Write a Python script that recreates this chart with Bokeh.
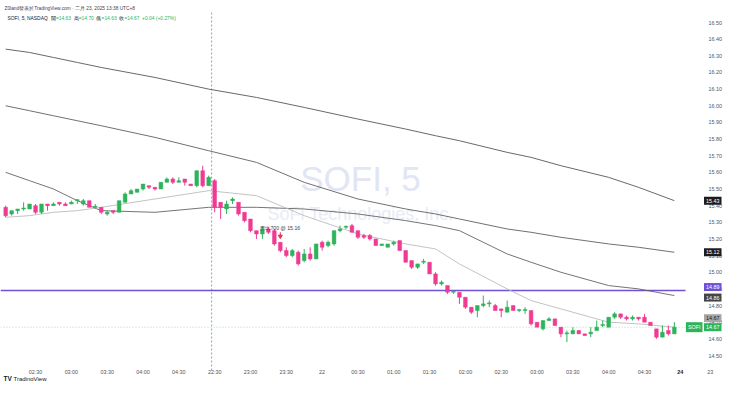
import numpy as np
from bokeh.plotting import figure
from bokeh.models import ColumnDataSource, Range1d, FixedTicker, NumeralTickFormatter, Label
from bokeh.core.properties import value
from bokeh.embed import file_html
from bokeh.resources import INLINE

# ---------------- data ----------------
opens = [15.39, 15.35, 15.37, 15.38, 15.38, 15.40, 15.36, 15.41, 15.40, 15.42,
         15.41, 15.41, 15.43, 15.41, 15.43, 15.39, 15.39, 15.35, 15.37, 15.36,
         15.42, 15.47, 15.48, 15.50, 15.52, 15.51, 15.50, 15.54, 15.56, 15.54,
         15.56, 15.53, 15.52, 15.61, 15.52, 15.55, 15.42, 15.38, 15.43, 15.42,
         15.36, 15.32, 15.25, 15.23, 15.26, 15.25, 15.18, 15.13, 15.10, 15.12,
         15.07, 15.11, 15.08, 15.18, 15.16, 15.17, 15.25, 15.27, 15.28, 15.25,
         15.22, 15.22, 15.20, 15.16, 15.15, 15.17, 15.19, 15.13, 15.07, 15.03,
         15.06, 15.06, 14.99, 14.93, 14.92, 14.88, 14.88, 14.85, 14.79, 14.77,
         14.80, 14.81, 14.80, 14.78, 14.76, 14.80, 14.77, 14.77, 14.77, 14.70,
         14.66, 14.71, 14.72, 14.67, 14.63, 14.63, 14.65, 14.63, 14.63, 14.65,
         14.68, 14.67, 14.73, 14.75, 14.73, 14.72, 14.73, 14.73, 14.70, 14.66,
         14.61, 14.65, 14.63]
highs = [15.40, 15.37, 15.38, 15.42, 15.41, 15.41, 15.41, 15.41, 15.42, 15.42,
         15.42, 15.43, 15.44, 15.44, 15.43, 15.41, 15.39, 15.37, 15.37, 15.43,
         15.48, 15.50, 15.50, 15.53, 15.52, 15.51, 15.54, 15.57, 15.57, 15.57,
         15.56, 15.53, 15.61, 15.64, 15.58, 15.56, 15.42, 15.43, 15.45, 15.42,
         15.36, 15.32, 15.25, 15.27, 15.27, 15.26, 15.18, 15.15, 15.14, 15.13,
         15.14, 15.15, 15.17, 15.19, 15.19, 15.25, 15.28, 15.28, 15.29, 15.25,
         15.23, 15.23, 15.20, 15.17, 15.17, 15.19, 15.19, 15.13, 15.07, 15.05,
         15.08, 15.06, 15.00, 14.95, 14.92, 14.89, 14.88, 14.85, 14.79, 14.80,
         14.86, 14.83, 14.81, 14.78, 14.83, 14.80, 14.78, 14.79, 14.77, 14.70,
         14.71, 14.73, 14.72, 14.67, 14.65, 14.67, 14.65, 14.63, 14.67, 14.71,
         14.71, 14.73, 14.76, 14.75, 14.74, 14.74, 14.73, 14.75, 14.70, 14.66,
         14.68, 14.68, 14.70]
lows = [15.33, 15.34, 15.35, 15.37, 15.38, 15.35, 15.35, 15.37, 15.40, 15.40,
        15.40, 15.41, 15.41, 15.40, 15.39, 15.38, 15.35, 15.34, 15.35, 15.36,
        15.42, 15.47, 15.48, 15.49, 15.50, 15.49, 15.50, 15.54, 15.53, 15.54,
        15.52, 15.52, 15.51, 15.51, 15.52, 15.36, 15.32, 15.35, 15.41, 15.34,
        15.30, 15.24, 15.20, 15.20, 15.23, 15.16, 15.12, 15.09, 15.09, 15.04,
        15.06, 15.07, 15.08, 15.13, 15.15, 15.16, 15.24, 15.26, 15.24, 15.20,
        15.20, 15.19, 15.16, 15.16, 15.15, 15.16, 15.13, 15.06, 15.02, 15.02,
        15.05, 14.99, 14.92, 14.92, 14.87, 14.87, 14.81, 14.78, 14.75, 14.73,
        14.79, 14.79, 14.77, 14.73, 14.76, 14.77, 14.76, 14.75, 14.68, 14.67,
        14.65, 14.71, 14.68, 14.61, 14.58, 14.63, 14.63, 14.62, 14.61, 14.65,
        14.67, 14.67, 14.72, 14.72, 14.71, 14.71, 14.71, 14.70, 14.68, 14.60,
        14.61, 14.62, 14.63]
closes = [15.34, 15.37, 15.38, 15.38, 15.41, 15.36, 15.41, 15.40, 15.41, 15.41,
          15.40, 15.42, 15.43, 15.43, 15.39, 15.39, 15.36, 15.36, 15.36, 15.43,
          15.47, 15.49, 15.50, 15.53, 15.51, 15.50, 15.54, 15.56, 15.54, 15.55,
          15.54, 15.52, 15.61, 15.52, 15.57, 15.39, 15.39, 15.41, 15.44, 15.35,
          15.31, 15.25, 15.23, 15.26, 15.24, 15.17, 15.13, 15.10, 15.13, 15.05,
          15.11, 15.08, 15.17, 15.15, 15.18, 15.25, 15.26, 15.27, 15.24, 15.21,
          15.21, 15.20, 15.16, 15.17, 15.17, 15.18, 15.13, 15.06, 15.03, 15.05,
          15.06, 14.99, 14.93, 14.94, 14.88, 14.88, 14.85, 14.79, 14.76, 14.80,
          14.81, 14.81, 14.77, 14.77, 14.79, 14.77, 14.77, 14.77, 14.69, 14.67,
          14.71, 14.72, 14.68, 14.63, 14.63, 14.65, 14.63, 14.62, 14.64, 14.67,
          14.68, 14.73, 14.75, 14.73, 14.72, 14.73, 14.72, 14.70, 14.68, 14.61,
          14.64, 14.63, 14.67]

# moving averages, read at a few bars
ma_idx = [0, 4, 8, 12, 16, 25, 34, 42, 50, 59, 67, 72, 76, 84, 88, 93, 101, 106, 112]
ma_slow = [16.34, 16.32, 16.29, 16.26, 16.23, 16.17, 16.10, 16.05, 15.99, 15.92,
           15.86, 15.82, 15.79, 15.72, 15.69, 15.64, 15.57, 15.51, 15.43]
ma_mid = [16.00, 15.97, 15.94, 15.91, 15.88, 15.81, 15.73, 15.66, 15.54, 15.44,
          15.38, 15.35, 15.32, 15.26, 15.24, 15.21, 15.17, 15.15, 15.12]
ma_med = [15.60, 15.55, 15.50, 15.43, 15.37, 15.36, 15.39, 15.39, 15.38, 15.35,
          15.31, 15.28, 15.25, 15.11, 15.06, 15.00, 14.92, 14.90, 14.86]
ma_fast = [15.33, 15.34, 15.36, 15.37, 15.39, 15.44, 15.49, 15.46, 15.34, 15.23,
           15.17, 15.14, 15.05, 14.90, 14.83, 14.78, 14.70, 14.69, 14.67]

alert_level = 14.89
session_start = 35
exec_idx, exec_qty, exec_price = 46, 700, 15.16

price_ticks = [14.5, 14.6, 14.7, 14.8, 14.9, 15.0, 15.1, 15.2, 15.3, 15.4, 15.5,
               15.6, 15.7, 15.8, 15.9, 16.0, 16.1, 16.2, 16.3, 16.4, 16.5]
time_idx = [5, 11, 17, 23, 29, 35, 41, 47, 53, 59, 65, 71, 77, 83, 89, 95, 101, 107, 118]
time_lbl = ["02:30", "03:00", "03:30", "04:00", "04:30", "22:30", "23:00", "23:30", "22",
            "00:30", "01:00", "01:30", "02:00", "02:30", "03:00", "03:30", "04:00", "04:30",
            "23"]
day_idx, day_lbl = 113, "24"

symbol, interval, exchange = "SOFI", "5", "NASDAQ"
company = "SoFi Technologies, Inc."
header = "Z0land發表於TradingView.com · 二月 23, 2025 13:38 UTC+8"

# ---------------- layout (pixel positions inside the canvas) ----------------
W, H = 724, 381
PX = 166.5      # px per dollar
CW = 5.97       # px per bar
FONT = "Liberation Sans"
AXF = "5.4px"
LEGF = 4.9
GREEN, PINK, PURPLE = "#2db35a", "#f03b92", "#7050d6"
PANE_RIGHT = 685  # px: edge of the price pane


def yv(py):
    return 16.5 - (py - 22) / PX


def xv(px):
    return (px - 5.2) / CW


o = np.array(opens); c = np.array(closes); h = np.array(highs); l = np.array(lows)
n = len(o)
colors = np.where(c >= o, GREEN, PINK)
top = np.maximum(o, c); bot = np.minimum(o, c)
top = np.where(top - bot < 1.0 / PX, bot + 1.0 / PX, top)
src = ColumnDataSource(dict(x=np.arange(n), h=h, l=l, top=top, bot=bot, color=colors))

p = figure(width=W, height=H, x_range=Range1d(xv(0), xv(W)),
           y_range=Range1d(yv(H), yv(0)), y_axis_location="right",
           output_backend="svg", toolbar_location=None,
           min_border_left=0, min_border_right=0, min_border_top=0, min_border_bottom=0)
p.outline_line_color = None
p.grid.visible = False
p.background_fill_color = "white"
p.border_fill_color = "white"

# watermark
p.add_layout(Label(x=xv(360), y=yv(178), text=f"{symbol}, {interval}", text_font=FONT,
                   text_font_size="35px", text_color="#e2e5f3", text_align="center",
                   text_baseline="middle", level="underlay"))
p.add_layout(Label(x=xv(360), y=yv(213), text=company, text_font=FONT,
                   text_font_size="18px", text_color="#e8ebf6", text_align="center",
                   text_baseline="middle", level="underlay"))

# session break, price line, alert line (drawn up to the price scale)
p.segment(x0=[session_start - 0.5], y0=[yv(12)], x1=[session_start - 0.5], y1=[yv(372)],
          line_color="#7f9fd8", line_dash="2 2", line_width=1)
p.segment(x0=[xv(0)], y0=[closes[-1]], x1=[xv(PANE_RIGHT)], y1=[closes[-1]],
          line_color="#a9ddb8", line_dash="1 2", line_width=1)
p.segment(x0=[xv(0)], y0=[alert_level], x1=[xv(PANE_RIGHT)], y1=[alert_level],
          line_color=PURPLE, line_width=1.5)

# moving averages
p.line(ma_idx, ma_slow, line_color="#585858", line_width=0.9)
p.line(ma_idx, ma_mid, line_color="#606060", line_width=0.9)
p.line(ma_idx, ma_med, line_color="#646464", line_width=0.9)
p.line(ma_idx, ma_fast, line_color="#bcbcbc", line_width=0.9)

# candles
p.segment(x0="x", y0="l", x1="x", y1="h", line_color="color", line_width=1, source=src)
p.vbar(x="x", width=0.62, top="top", bottom="bot", fill_color="color", line_color="color",
       line_width=0.5, source=src)

# execution marker
hi = highs[exec_idx]
p.segment(x0=[exec_idx], y0=[hi + 10 / PX], x1=[exec_idx], y1=[hi + 6 / PX],
          line_color="#e8304f", line_width=1)
p.scatter(x=[exec_idx], y=[hi + 6 / PX], marker="inverted_triangle", size=4,
          fill_color="#e8304f", line_color="#e8304f")
p.text(x=[exec_idx], y=[hi + 14.5 / PX], text=[f"賣出{exec_qty} @ {exec_price:.2f}"],
       text_font=value(FONT), text_font_size=value("5.2px"), text_align="center",
       text_baseline="middle", text_color="#3b3e48")

# axes (labels drawn back over the chart area, like TradingView scales)
p.yaxis.ticker = FixedTicker(ticks=price_ticks)
p.yaxis.formatter = NumeralTickFormatter(format="0.00")
p.yaxis.major_label_standoff = -16
p.xaxis.ticker = FixedTicker(ticks=time_idx)
p.xaxis.major_label_overrides = {i: s for i, s in zip(time_idx, time_lbl)}
p.xaxis.major_label_standoff = -13
for ax in (p.xaxis, p.yaxis):
    ax.major_tick_out = 0
    ax.major_tick_in = 0
    ax.minor_tick_out = 0
    ax.minor_tick_in = 0
    ax.axis_line_color = None
    ax.major_label_text_font = FONT
    ax.major_label_text_font_size = AXF
    ax.major_label_text_color = "#50535e"

p.add_layout(Label(x=day_idx, y=yv(371), text=day_lbl, text_font=FONT, text_font_size=AXF,
                   text_color="#131722", text_font_style="bold",
                   text_align="center", text_baseline="middle"))


def axis_box(price, text, bg, fg="white", shift_px=0.0, right_px=721):
    p.add_layout(Label(x=xv(right_px), y=price + shift_px / PX, text=text, text_font=FONT,
                       text_font_size=AXF, text_color=fg, text_align="right",
                       text_baseline="middle", background_fill_color=bg, padding=2))


axis_box(ma_slow[-1], f"{ma_slow[-1]:.2f}", "#1c1c1c")
axis_box(ma_mid[-1], f"{ma_mid[-1]:.2f}", "#1c1c1c")
axis_box(alert_level, f"{alert_level:.2f}", PURPLE, shift_px=3.5)
axis_box(ma_med[-1], f"{ma_med[-1]:.2f}", "#454545", shift_px=-2)
axis_box(ma_fast[-1], f"{ma_fast[-1]:.2f}", "#a6a6a6", fg="#1c1c1c", shift_px=9)
axis_box(closes[-1], f"{closes[-1]:.2f}", GREEN)
axis_box(closes[-1], symbol, GREEN, right_px=702)

# header and legend
p.add_layout(Label(x=xv(4), y=yv(8), text=header, text_font=FONT, text_font_size="4.8px",
                   text_color="#3f424c", text_baseline="middle"))

AW = {" ": 278, ",": 278, ".": 278, "=": 584, "+": 584, "-": 584, "(": 333, ")": 333,
      "%": 889, "S": 667, "O": 778, "F": 611, "I": 278, "N": 722, "A": 667, "D": 722, "Q": 778}


def tw(s, size):
    w = 0
    for ch in s:
        if ch.isdigit():
            w += 556
        elif ord(ch) > 0x2E80:
            w += 1000
        else:
            w += AW.get(ch, 600)
    return w * size / 1000


chg = closes[-1] - closes[-2]
pct = chg / closes[-2] * 100
parts = [(f"{symbol}, {interval}, {exchange}", "#131722", 3.0),
         ("開", "#131722", 0.2), (f"={opens[-1]:.2f}", GREEN, 2.6),
         ("高", "#131722", 0.2), (f"={highs[-1]:.2f}", GREEN, 2.6),
         ("低", "#131722", 0.2), (f"={lows[-1]:.2f}", GREEN, 2.6),
         ("收", "#131722", 0.2), (f"={closes[-1]:.2f}", GREEN, 2.6),
         (f"{chg:+.2f} ({pct:+.2f}%)", GREEN, 0)]
cx = 7.0
for txt, col, gap in parts:
    p.add_layout(Label(x=xv(cx), y=yv(18), text=txt, text_font=FONT,
                       text_font_size=f"{LEGF}px", text_color=col, text_baseline="middle"))
    cx += tw(txt, LEGF) + gap

# logo
p.add_layout(Label(x=xv(3), y=yv(378), text="TV", text_font=FONT, text_font_size="6.5px",
                   text_font_style="bold", text_color="#131722", text_baseline="middle"))
p.add_layout(Label(x=xv(13), y=yv(378), text="TradingView", text_font=FONT,
                   text_font_size="6px", text_color="#131722", text_baseline="middle"))

open("out.html", "w").write(file_html(p, INLINE))
